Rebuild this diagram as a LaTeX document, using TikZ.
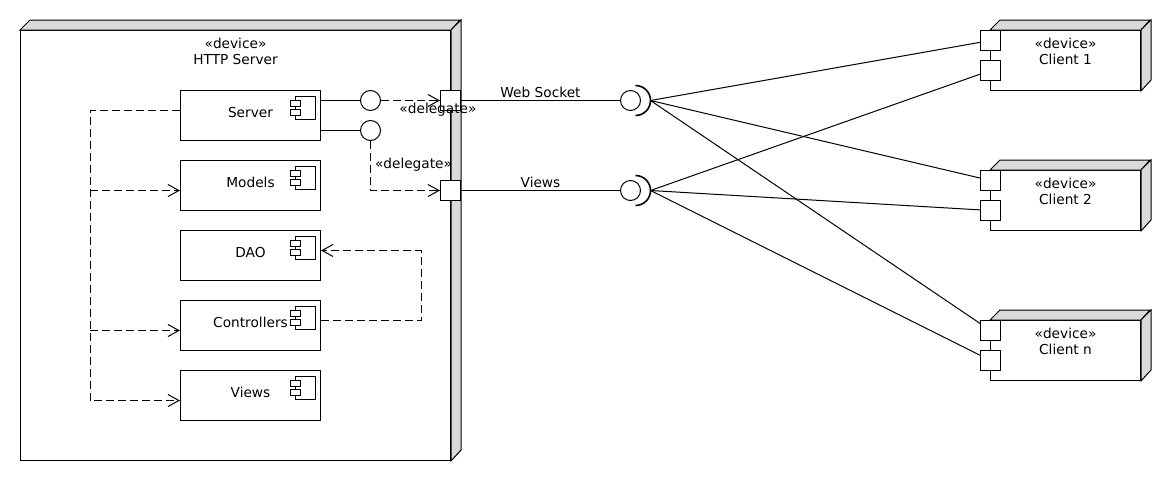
\documentclass[tikz,border=0pt]{standalone}
\usepackage{fontspec}
\setmainfont{DejaVu Sans}
\usetikzlibrary{arrows.meta,calc}
\definecolor{devside}{RGB}{218,218,218}
\begin{document}
\begin{tikzpicture}[x=1pt,y=-1pt,line width=1pt,
  every node/.style={font=\fontsize{13.7}{16}\selectfont},
  device/.style={draw,fill=white,inner sep=0pt},
  devlabel/.style={anchor=north,align=center,inner sep=0pt},
  comp/.style={draw,fill=white,minimum width=140pt,minimum height=50pt,
    inner sep=0pt,text height=10pt,text depth=6pt,
    path picture={
      \draw[fill=white] ($(path picture bounding box.north east)+(-25,6)$)
        rectangle ($(path picture bounding box.north east)+(-5,29)$);
      \draw[fill=white] ($(path picture bounding box.north east)+(-30,10)$)
        rectangle ($(path picture bounding box.north east)+(-20,16)$);
      \draw[fill=white] ($(path picture bounding box.north east)+(-30,19)$)
        rectangle ($(path picture bounding box.north east)+(-20,25)$);
    }},
  port/.style={draw,fill=white,minimum size=20pt,inner sep=0pt},
  lolli/.style={draw,fill=white,circle,minimum size=20pt,inner sep=0pt},
  dep/.style={dash pattern=on 8pt off 4pt,-{Straight Barb[length=11pt,width=12pt]}},
  socket/.style={line width=1.6pt}
]
% page
\fill[white] (0,0) rectangle (1170,480);
\useasboundingbox (0,0) rectangle (1170,480);

% half-pixel offset keeps the 1pt lines on whole pixels
\begin{scope}[shift={(0.5,0.5)}]

% HTTP server device
\node[device,minimum width=430pt,minimum height=430pt] (http) at (235,245) {};
\draw[fill=devside] (http.north west) -- ++(10,-10) -- ++(430,0) -- (http.north east) -- cycle;
\draw[fill=devside] (http.north east) -- ++(10,-10) -- ++(0,430) -- (http.south east) -- cycle;
\node[devlabel] (httplbl) at ([yshift=-7.5pt]http.north) {«device»\\HTTP Server};

% components
\node[comp] (srv)    at (250,115) {Server};
\node[comp] (models) at (250,185) {Models};
\node[comp] (dao)    at (250,255) {DAO};
\node[comp] (ctrl)   at (250,325) {Controllers};
\node[comp] (viewsc) at (250,395) {Views};

% provided interfaces of Server
\node[lolli] (lp1) at (370,100) {};
\node[lolli] (lp2) at (370,130) {};
\draw ([yshift=15pt]srv.east) -- (lp1);
\draw ([yshift=-15pt]srv.east) -- (lp2);

% ports on the server device
\node[port] (p1) at (450,100) {};
\node[port] (p2) at (450,190) {};

% delegations
\draw[dep] (lp1) -- node[at end,yshift=-9pt,inner sep=0pt,xshift=-2pt] {«delegate»} (p1);
\draw[dep] (lp2) |- node[pos=0.24,anchor=west,inner sep=1pt,xshift=3pt] {«delegate»} (p2);

% dependencies inside the server
\draw[dep] ([yshift=5pt]srv.west) -- ++(-90,0) coordinate (trunk) |- ([yshift=-5pt]viewsc.west);
\coordinate (mIn) at ([yshift=-5pt]models.west);
\coordinate (cIn) at ([yshift=-5pt]ctrl.west);
\draw[dep] (trunk |- mIn) -- (mIn);
\draw[dep] (trunk |- cIn) -- (cIn);
\draw[dep] ([yshift=5pt]ctrl.east) -- ++(100,0) |- ([yshift=5pt]dao.east);

% required interfaces (sockets)
\node[lolli] (ws) at (630,100) {};
\node[lolli] (vw) at (630,190) {};
\draw[socket] ([xshift=5pt,yshift=15pt]ws.center) arc[start angle=90,end angle=-90,radius=15pt];
\draw[socket] ([xshift=5pt,yshift=15pt]vw.center) arc[start angle=90,end angle=-90,radius=15pt];
\coordinate (sk1) at ([xshift=20pt]ws.center);
\coordinate (sk2) at ([xshift=20pt]vw.center);
\draw (p1) -- node[above,inner sep=2pt] {Web Socket} (ws);
\draw (p2) -- node[above,inner sep=2pt] {Views} (vw);

% client devices
\foreach \n/\t/\yc in {c1/Client 1/60,c2/Client 2/200,cn/Client n/350}{
  \node[device,minimum width=150pt,minimum height=60pt] (\n) at (1065,\yc) {};
  \draw[fill=devside] (\n.north west) -- ++(10,-10) -- ++(150,0) -- (\n.north east) -- cycle;
  \draw[fill=devside] (\n.north east) -- ++(10,-10) -- ++(0,60) -- (\n.south east) -- cycle;
  \node[devlabel] (\n-lbl) at ([yshift=-7.5pt]\n.north) {«device»\\\t};
  \node[port] (\n-p1) at (990,\yc-20) {};
  \node[port] (\n-p2) at (990,\yc+10) {};
}

% connections from the sockets to the clients
\foreach \n in {c1,c2,cn}{
  \draw (sk1) -- (\n-p1);
  \draw (sk2) -- (\n-p2);
}
\end{scope}
\end{tikzpicture}
\end{document}
